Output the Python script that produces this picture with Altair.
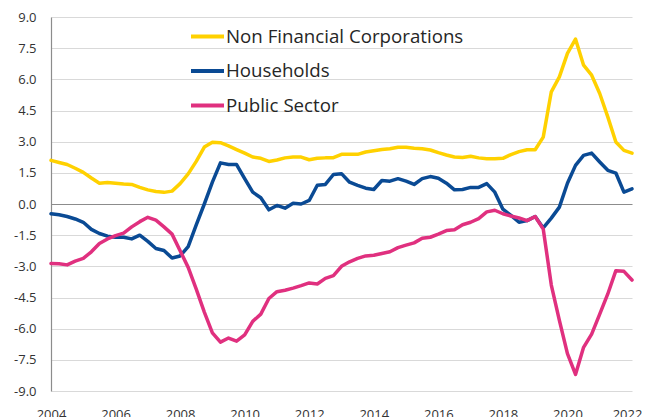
import altair as alt
import pandas as pd

start_year = 2004
series_names = ["Non Financial Corporations", "Households", "Public Sector"]
series_colors = ["#FFD100", "#0A4A94", "#E0307F"]

nfc = [2.10, 2.00, 1.90, 1.72, 1.52, 1.25, 1.00, 1.04, 1.00, 0.96,
       0.94, 0.80, 0.68, 0.60, 0.56, 0.62, 0.98, 1.45, 2.05, 2.74,
       2.97, 2.95, 2.80, 2.62, 2.45, 2.26, 2.20, 2.05, 2.12, 2.22,
       2.26, 2.26, 2.13, 2.20, 2.22, 2.23, 2.39, 2.39, 2.39, 2.50,
       2.56, 2.62, 2.66, 2.73, 2.73, 2.68, 2.66, 2.60, 2.47, 2.36,
       2.26, 2.24, 2.30, 2.22, 2.18, 2.18, 2.20, 2.38, 2.52, 2.61,
       2.61, 3.22, 5.40, 6.12, 7.25, 7.94, 6.68, 6.20, 5.32, 4.19,
       2.98, 2.58, 2.45]
households = [-0.47, -0.52, -0.60, -0.72, -0.88, -1.22, -1.42, -1.55, -1.60, -1.60,
              -1.68, -1.50, -1.80, -2.14, -2.24, -2.60, -2.50, -2.05, -1.00, 0.00,
              1.05, 1.98, 1.90, 1.90, 1.22, 0.57, 0.30, -0.28, -0.07, -0.20,
              0.04, 0.00, 0.17, 0.90, 0.94, 1.42, 1.46, 1.05, 0.90, 0.76,
              0.70, 1.13, 1.10, 1.22, 1.10, 0.94, 1.22, 1.32, 1.24, 1.00,
              0.68, 0.70, 0.80, 0.80, 0.98, 0.57, -0.25, -0.55, -0.88, -0.80,
              -0.60, -1.15, -0.68, -0.15, 1.00, 1.86, 2.34, 2.45, 2.02, 1.62,
              1.49, 0.57, 0.73]
public_sector = [-2.86, -2.88, -2.93, -2.75, -2.62, -2.30, -1.90, -1.68, -1.52, -1.40,
                 -1.10, -0.85, -0.64, -0.78, -1.10, -1.45, -2.25, -3.05, -4.10, -5.20,
                 -6.20, -6.65, -6.45, -6.60, -6.30, -5.65, -5.30, -4.55, -4.22, -4.15,
                 -4.05, -3.93, -3.80, -3.85, -3.58, -3.45, -3.00, -2.78, -2.62, -2.50,
                 -2.47, -2.38, -2.30, -2.10, -1.98, -1.87, -1.65, -1.60, -1.45, -1.28,
                 -1.24, -1.00, -0.88, -0.70, -0.38, -0.30, -0.47, -0.58, -0.67, -0.80,
                 -0.60, -1.20, -3.90, -5.60, -7.20, -8.20, -6.90, -6.26, -5.30, -4.33,
                 -3.21, -3.24, -3.66]

x_ticks = [2004, 2006, 2008, 2010, 2012, 2014, 2016, 2018, 2020, 2022]
y_ticks = [-9.0, -7.5, -6.0, -4.5, -3.0, -1.5, 0.0, 1.5, 3.0, 4.5, 6.0, 7.5, 9.0]

rows = []
for name, vals in zip(series_names, [nfc, households, public_sector]):
    for k, v in enumerate(vals):
        rows.append({"t": start_year + k / 4, "v": v, "series": name})
df = pd.DataFrame(rows)

chart = alt.Chart(df).mark_line(
    strokeWidth=3.5, strokeJoin="round", strokeCap="round"
).encode(
    x=alt.X("t:Q", scale=alt.Scale(domain=[2004, 2022], nice=False, zero=False),
            axis=alt.Axis(values=x_ticks, format="d", title=None, grid=False,
                          domain=False, ticks=False, labelPadding=17,
                          labelFont="Open Sans", labelFontSize=13, labelColor="#333333",
                          labelOffset=alt.condition("datum.value == 2022", alt.value(-5), alt.value(0)),
                          labelFlush=False)),
    y=alt.Y("v:Q", scale=alt.Scale(domain=[-9, 9], nice=False),
            axis=alt.Axis(values=y_ticks, title=None, grid=True,
                          labelExpr="replace(format(datum.value, '.1f'), '\u2212', '-')",
                          gridColor=alt.condition("datum.value == 0", alt.value("#8c8c8c"), alt.value("#d9d9d9")),
                          gridWidth=1.2,
                          domain=True, domainColor="#8c8c8c", domainWidth=1.2,
                          ticks=False, labelPadding=15,
                          labelFont="Open Sans", labelFontSize=13, labelColor="#333333")),
    color=alt.Color("series:N",
                    scale=alt.Scale(domain=series_names, range=series_colors),
                    sort=series_names,
                    legend=alt.Legend(orient="none", legendX=138, legendY=1, title=None,
                                      symbolType="stroke", symbolSize=1089, symbolStrokeWidth=4,
                                      labelFont="Open Sans", labelFontSize=18.7, labelColor="#262626",
                                      labelLimit=0, labelOffset=0, rowPadding=5.5, padding=0)),
).properties(
    width=581, height=374,
    autosize=alt.AutoSizeParams(type="none"),
    padding={"left": 43, "top": 9, "right": 10, "bottom": 26},
).configure_view(stroke=None)

chart.save("out.html", embed_options={"renderer": "svg", "actions": False})
